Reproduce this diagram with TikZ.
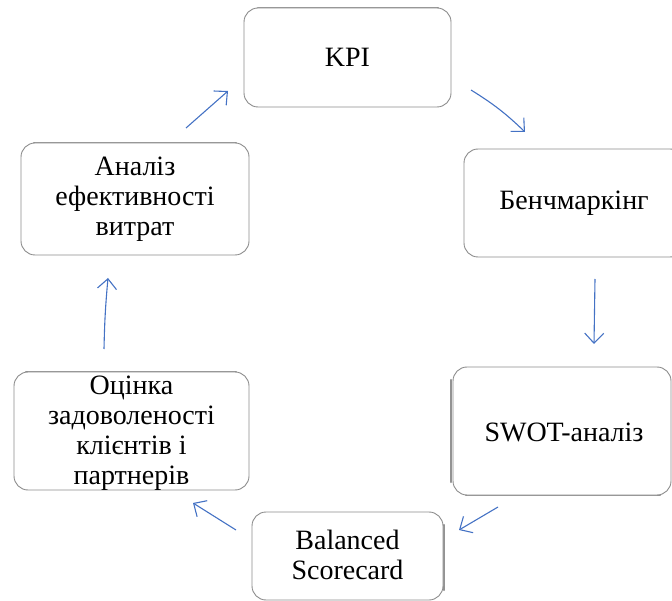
\documentclass[tikz,border=0pt]{standalone}
\usepackage{fontspec}
\setmainfont{Liberation Serif}
\usetikzlibrary{arrows.meta}
\definecolor{arrowblue}{HTML}{4472C4}
\definecolor{boxgray}{HTML}{8C8C8C}
\tikzset{
  box/.style={draw=boxgray, line width=0.9pt, rounded corners=14pt, fill=white, inner sep=0pt},
  boxshadow/.style={draw=gray!85, line width=2.2pt, line cap=round},
  txt/.style={align=center, font=\fontsize{28}{30}\selectfont, inner sep=0pt},
  flow/.style={draw=arrowblue, line width=1.1pt, -{Straight Barb[length=10pt,width=19pt,line width=1.1pt]}}
}
\begin{document}
\begin{tikzpicture}[x=1pt,y=-1pt]
\useasboundingbox (0,0) rectangle (672,601);
\begin{scope}
\clip (0,0) rectangle (672,601);
% shadows
\draw[boxshadow] (258,8) -- (438,8);
\draw[boxshadow] (34,143) -- (236,143);
\draw[boxshadow] (451,380) -- (451,482);
\draw[boxshadow] (466,495) -- (660,495);
\draw[boxshadow] (26,372) -- (236,372);
\draw[boxshadow] (444,525) -- (444,590);
% boxes
\node[box, minimum width=207, minimum height=99] (kpi) at (347.5,57.5) {};
\node[box, minimum width=228, minimum height=112] (ana) at (135,199) {};
\node[box, minimum width=220, minimum height=108] (ben) at (574,203) {};
\node[box, minimum width=218, minimum height=128] (swot) at (562,431) {};
\node[box, minimum width=191, minimum height=88] (bsc) at (347.5,556) {};
\node[box, minimum width=235, minimum height=118] (oc) at (131.5,431) {};
\end{scope}
% texts
\node[txt] (tkpi) at (347.5,57) {KPI};
\node[txt] (tana) at (135,199) {Аналіз\\ефективності\\витрат};
\node[txt] (tben) at (574,203) {Бенчмаркінг};
\node[txt] (tswot) at (564,432) {SWOT-аналіз};
\node[txt] (tbsc) at (347.5,555) {Balanced\\Scorecard};
\node[txt] (toc) at (131.5,433) {Оцінка\\задоволеності\\клієнтів і\\партнерів};
% arrow end points
\coordinate (a1) at (186,128); \coordinate (a2) at (228,91);
\coordinate (b1) at (471,90);  \coordinate (b2) at (525,132);
\coordinate (c1) at (595,279); \coordinate (c2) at (594,344);
\coordinate (d1) at (498,507); \coordinate (d2) at (459,530);
\coordinate (e1) at (236,530); \coordinate (e2) at (193,503);
\coordinate (f1) at (104,349); \coordinate (f2) at (108,278);
\draw[flow] (a1) -- (a2);
\draw[flow] (b1) to[bend left=6] (b2);
\draw[flow] (c1) -- (c2);
\draw[flow] (d1) -- (d2);
\draw[flow] (e1) -- (e2);
\draw[flow] (f1) to[bend left=2] (f2);
\end{tikzpicture}
\end{document}
